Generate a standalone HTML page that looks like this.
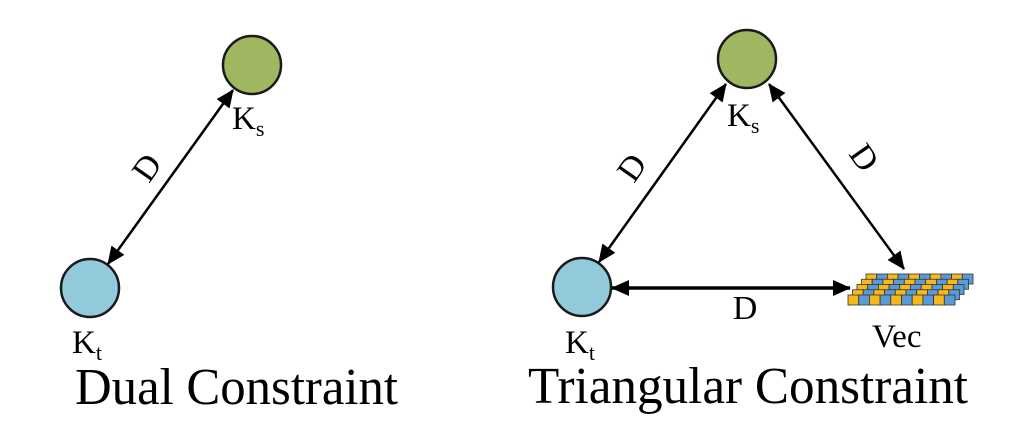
<!DOCTYPE html>
<html><head><meta charset="utf-8"><style>html,body{margin:0;padding:0;background:#fff;}svg{display:block}</style></head><body>
<svg width="1024" height="422" viewBox="0 0 1024 422" xmlns="http://www.w3.org/2000/svg" font-family="Liberation Serif, serif">
<defs>
<marker id="b" markerWidth="18" markerHeight="16" refX="17" refY="8" orient="auto-start-reverse" markerUnits="userSpaceOnUse" viewBox="0 0 18 16">
<path d="M0,0 L18,8 L0,16 z" fill="#000"/></marker>
</defs>
<!-- Left diagram -->
<circle cx="252" cy="65" r="29" fill="#9fb760" stroke="#1a1a1a" stroke-width="2.5"/>
<circle cx="90" cy="288" r="29" fill="#92cadb" stroke="#1a1a1a" stroke-width="2.5"/>
<line x1="108" y1="264" x2="233" y2="90" stroke="#000" stroke-width="2.5" marker-start="url(#b)" marker-end="url(#b)"/>
<text x="156" y="174" font-size="34" text-anchor="middle" transform="rotate(-55 156 174)">D</text>
<text x="232" y="129" font-size="33">K<tspan font-size="22" dy="7">s</tspan></text>
<text x="72" y="353" font-size="33">K<tspan font-size="22" dy="7">t</tspan></text>
<text x="75" y="404" font-size="52" textLength="323" lengthAdjust="spacingAndGlyphs">Dual Constraint</text>
<!-- Right diagram -->
<circle cx="747" cy="59" r="29" fill="#9fb760" stroke="#1a1a1a" stroke-width="2.5"/>
<circle cx="582" cy="287" r="29" fill="#92cadb" stroke="#1a1a1a" stroke-width="2.5"/>
<line x1="599" y1="262" x2="726" y2="84" stroke="#000" stroke-width="2.5" marker-start="url(#b)" marker-end="url(#b)"/>
<line x1="769" y1="84" x2="904" y2="269" stroke="#000" stroke-width="2.5" marker-start="url(#b)" marker-end="url(#b)"/>
<line x1="612" y1="288" x2="850" y2="288" stroke="#000" stroke-width="3.5" marker-start="url(#b)" marker-end="url(#b)"/>
<text x="641" y="174" font-size="34" text-anchor="middle" transform="rotate(-55 641 174)">D</text>
<text x="855" y="164" font-size="34" text-anchor="middle" transform="rotate(55 855 164)">D</text>
<text x="745" y="319" font-size="34" text-anchor="middle">D</text>
<text x="727" y="126" font-size="33">K<tspan font-size="22" dy="7">s</tspan></text>
<text x="565" y="353" font-size="33">K<tspan font-size="22" dy="7">t</tspan></text>
<text x="872" y="347" font-size="33">Vec</text>
<text x="528" y="403" font-size="52" textLength="440" lengthAdjust="spacingAndGlyphs">Triangular Constraint</text>
<!-- Vec stack -->
<g stroke="#333" stroke-width="0.8">
<g transform="translate(866,274)">
<rect x="0" width="10.7" height="10" fill="#f7b81c"/><rect x="10.7" width="10.7" height="10" fill="#5b9bd5"/><rect x="21.4" width="10.7" height="10" fill="#f7b81c"/><rect x="32.1" width="10.7" height="10" fill="#5b9bd5"/><rect x="42.8" width="10.7" height="10" fill="#f7b81c"/><rect x="53.5" width="10.7" height="10" fill="#5b9bd5"/><rect x="64.2" width="10.7" height="10" fill="#f7b81c"/><rect x="74.9" width="10.7" height="10" fill="#5b9bd5"/><rect x="85.6" width="10.7" height="10" fill="#f7b81c"/><rect x="96.3" width="10.7" height="10" fill="#5b9bd5"/></g>
<g transform="translate(861.5,279.25)">
<rect x="0" width="10.7" height="10" fill="#f7b81c"/><rect x="10.7" width="10.7" height="10" fill="#5b9bd5"/><rect x="21.4" width="10.7" height="10" fill="#f7b81c"/><rect x="32.1" width="10.7" height="10" fill="#5b9bd5"/><rect x="42.8" width="10.7" height="10" fill="#f7b81c"/><rect x="53.5" width="10.7" height="10" fill="#5b9bd5"/><rect x="64.2" width="10.7" height="10" fill="#f7b81c"/><rect x="74.9" width="10.7" height="10" fill="#5b9bd5"/><rect x="85.6" width="10.7" height="10" fill="#f7b81c"/><rect x="96.3" width="10.7" height="10" fill="#5b9bd5"/></g>
<g transform="translate(857,284.5)">
<rect x="0" width="10.7" height="10" fill="#f7b81c"/><rect x="10.7" width="10.7" height="10" fill="#5b9bd5"/><rect x="21.4" width="10.7" height="10" fill="#f7b81c"/><rect x="32.1" width="10.7" height="10" fill="#5b9bd5"/><rect x="42.8" width="10.7" height="10" fill="#f7b81c"/><rect x="53.5" width="10.7" height="10" fill="#5b9bd5"/><rect x="64.2" width="10.7" height="10" fill="#f7b81c"/><rect x="74.9" width="10.7" height="10" fill="#5b9bd5"/><rect x="85.6" width="10.7" height="10" fill="#f7b81c"/><rect x="96.3" width="10.7" height="10" fill="#5b9bd5"/></g>
<g transform="translate(852.5,289.75)">
<rect x="0" width="10.7" height="10" fill="#f7b81c"/><rect x="10.7" width="10.7" height="10" fill="#5b9bd5"/><rect x="21.4" width="10.7" height="10" fill="#f7b81c"/><rect x="32.1" width="10.7" height="10" fill="#5b9bd5"/><rect x="42.8" width="10.7" height="10" fill="#f7b81c"/><rect x="53.5" width="10.7" height="10" fill="#5b9bd5"/><rect x="64.2" width="10.7" height="10" fill="#f7b81c"/><rect x="74.9" width="10.7" height="10" fill="#5b9bd5"/><rect x="85.6" width="10.7" height="10" fill="#f7b81c"/><rect x="96.3" width="10.7" height="10" fill="#5b9bd5"/></g>
<g transform="translate(848,295)">
<rect x="0" width="10.7" height="10" fill="#f7b81c"/><rect x="10.7" width="10.7" height="10" fill="#5b9bd5"/><rect x="21.4" width="10.7" height="10" fill="#f7b81c"/><rect x="32.1" width="10.7" height="10" fill="#5b9bd5"/><rect x="42.8" width="10.7" height="10" fill="#f7b81c"/><rect x="53.5" width="10.7" height="10" fill="#5b9bd5"/><rect x="64.2" width="10.7" height="10" fill="#f7b81c"/><rect x="74.9" width="10.7" height="10" fill="#5b9bd5"/><rect x="85.6" width="10.7" height="10" fill="#f7b81c"/><rect x="96.3" width="10.7" height="10" fill="#5b9bd5"/></g>
</g>
</svg>
</body></html>
